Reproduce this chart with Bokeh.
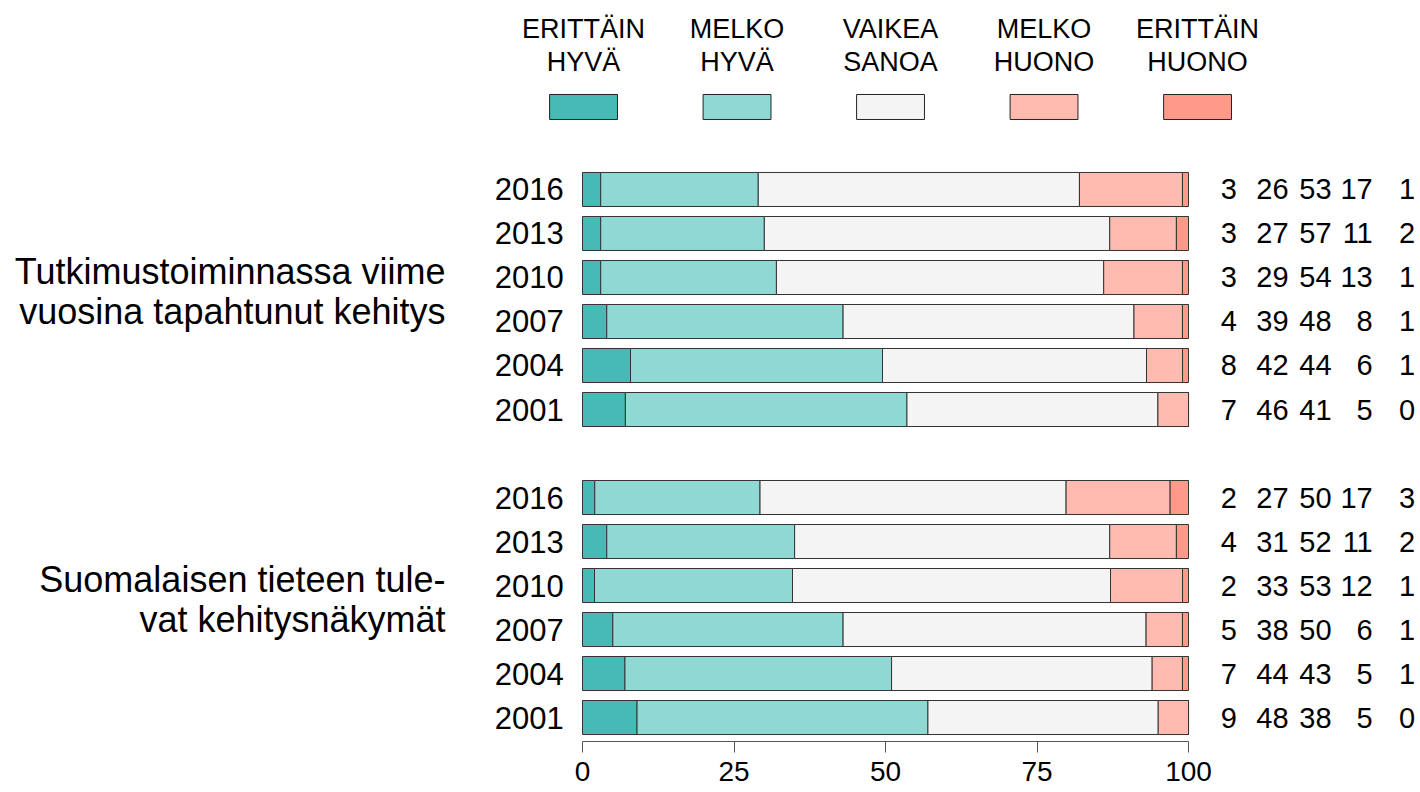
from bokeh.plotting import figure
from bokeh.models import Range1d, FixedTicker, ColumnDataSource
from bokeh.core.properties import value
from bokeh.embed import file_html
from bokeh.resources import INLINE

# ---------------- data ----------------
categories = ["ERITTÄIN\nHYVÄ", "MELKO\nHYVÄ", "VAIKEA\nSANOA", "MELKO\nHUONO", "ERITTÄIN\nHUONO"]
colors = ["#46BAB5", "#8FD8D4", "#F4F4F4", "#FFBBB0", "#FF9A8A"]
years = ["2016", "2013", "2010", "2007", "2004", "2001"]
group_labels = ["Tutkimustoiminnassa viime\nvuosina tapahtunut kehitys",
                "Suomalaisen tieteen tule-\nvat kehitysnäkymät"]

g1_erittain_hyva = [3, 3, 3, 4, 8, 7]
g1_melko_hyva = [26, 27, 29, 39, 42, 46]
g1_vaikea_sanoa = [53, 57, 54, 48, 44, 41]
g1_melko_huono = [17, 11, 13, 8, 6, 5]
g1_erittain_huono = [1, 2, 1, 1, 1, 0]

g2_erittain_hyva = [2, 4, 2, 5, 7, 9]
g2_melko_hyva = [27, 31, 33, 38, 44, 48]
g2_vaikea_sanoa = [50, 52, 53, 50, 43, 38]
g2_melko_huono = [17, 11, 12, 6, 5, 5]
g2_erittain_huono = [3, 2, 1, 1, 1, 0]

x_ticks = [0, 25, 50, 75, 100]

groups = [
    [g1_erittain_hyva, g1_melko_hyva, g1_vaikea_sanoa, g1_melko_huono, g1_erittain_huono],
    [g2_erittain_hyva, g2_melko_hyva, g2_vaikea_sanoa, g2_melko_huono, g2_erittain_huono],
]

# ---------------- layout constants ----------------
FONT = value("Liberation Sans")
BAR_H = 0.773
ROWS_PER_GROUP = len(years) + 1
NUM_X = [108.0, 116.5, 123.6, 130.4, 137.4]
LEG_Y = -1.875
LEG_X0, LEG_DX = 0.17, 25.33

p = figure(width=1420, height=792,
           x_range=Range1d(-96.04, 138.28), y_range=Range1d(12.545, -4.295),
           output_backend="svg", toolbar_location=None,
           y_axis_location=None, min_border=0, min_border_bottom=51,
           outline_line_color=None, background_fill_color="white")
p.xgrid.visible = False
p.ygrid.visible = False

for g, series in enumerate(groups):
    rows = [g * ROWS_PER_GROUP + i for i in range(len(years))]
    totals = [sum(s[i] for s in series) for i in range(len(years))]
    cum = [0.0] * len(years)
    for k, s in enumerate(series):
        left = [cum[i] / totals[i] * 100 for i in range(len(years))]
        cum = [cum[i] + s[i] for i in range(len(years))]
        right = [cum[i] / totals[i] * 100 for i in range(len(years))]
        src = ColumnDataSource(dict(y=rows, left=left, right=right))
        p.hbar(y="y", left="left", right="right", height=BAR_H, source=src,
               fill_color=colors[k], line_color="#333333", line_width=1)
        # value labels
        p.text(x=[NUM_X[k]] * len(rows), y=rows, text=[str(v) for v in s],
               text_font=FONT, text_font_size="29px", text_color="black",
               text_align="right", text_baseline="middle")
    # year labels
    p.text(x=[-3.1] * len(rows), y=rows, text=years,
           text_font=FONT, text_font_size="31px", text_color="black",
           text_align="right", text_baseline="middle")
    # group label (two lines)
    center = g * ROWS_PER_GROUP + (len(years) - 1) / 2
    lines = group_labels[g].split("\n")
    p.text(x=[-22.6, -22.6], y=[center - 0.64, center + 0.27], text=lines,
           text_font=FONT, text_font_size="36px", text_color="black",
           text_align="right", text_baseline="middle")

# legend
leg_x = [LEG_X0 + i * LEG_DX for i in range(len(categories))]
p.rect(x=leg_x, y=[LEG_Y] * len(categories), width=11.2, height=0.568,
       fill_color=colors, line_color="#222222", line_width=1)
line1 = [c.split("\n")[0] for c in categories]
line2 = [c.split("\n")[1] for c in categories]
p.text(x=leg_x, y=[-3.648] * len(categories), text=line1,
       text_font=FONT, text_font_size="27px", text_color="black",
       text_align="center", text_baseline="middle")
p.text(x=leg_x, y=[-2.886] * len(categories), text=line2,
       text_font=FONT, text_font_size="27px", text_color="black",
       text_align="center", text_baseline="middle")

# x axis
ax = p.xaxis[0]
ax.ticker = FixedTicker(ticks=x_ticks)
ax.bounds = (0, 100)
ax.major_tick_in = 0
ax.major_tick_out = 11
ax.minor_tick_line_color = None
ax.axis_line_color = "#555555"
ax.major_tick_line_color = "#555555"
ax.major_label_text_font = "Liberation Sans"
ax.major_label_text_font_size = "28px"
ax.major_label_text_color = "black"
ax.major_label_standoff = 9

open("out.html", "w").write(file_html(p, INLINE))
